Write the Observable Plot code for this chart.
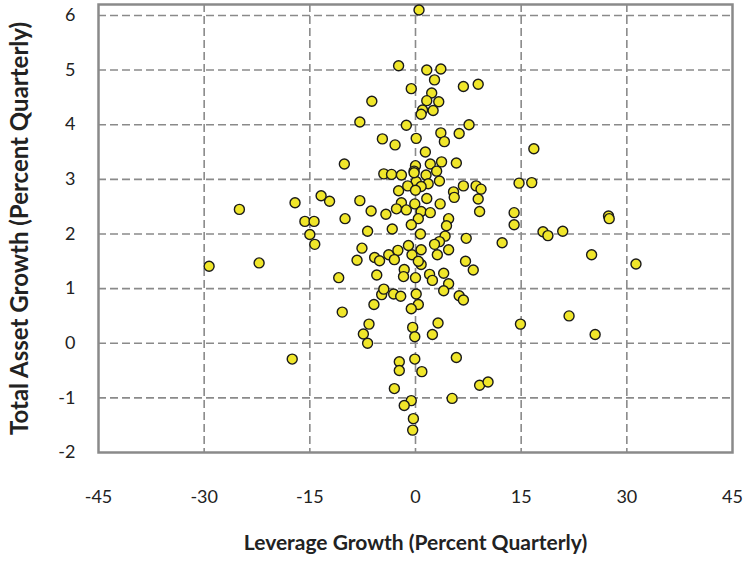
<!DOCTYPE html>
<html>
<head>
<meta charset="utf-8">
<script src="https://cdn.jsdelivr.net/npm/d3@7"></script>
<script src="https://cdn.jsdelivr.net/npm/@observablehq/plot@0.6"></script>
<style>
  html, body { margin: 0; padding: 0; background: #fff; }
  #chart svg { display: block; }
</style>
</head>
<body>
<div id="chart"></div>
<script>
// Leverage growth (x, percent quarterly)
const leverageGrowth = [
  0.5, -2.4, 1.6, 3.6, 2.7, -0.6, 6.8, 8.9, -6.2, 2.3,
  1.6, 3.3, 1.0, 2.5, 0.8, -7.9, -1.3, 7.6, -4.7, -2.9,
  0.1, 3.6, 4.1, 6.2, 1.4, 16.8, -10.1, 2.1, 3.7, 5.8,
  0.0, -4.5, -3.4, -2.0, -0.2, 1.5, 3.0, 3.4, 0.1, 1.8,
  0.8, 6.8, 8.6, 9.3, 14.7, 16.5, 5.4, 5.5, 8.9, 9.1,
  -2.4, -1.1, 0.0, 1.6, -2.0, -0.1, 3.5, -2.7, -1.3, 0.8,
  2.1, -12.2, -13.4, -17.1, -25.0, -7.9, -6.3, -4.2, -10.0, -15.7,
  -14.4, -15.0, -14.3, 14.0, 14.0, 18.1, 18.8, 20.9, 27.4, 27.5,
  25.0, 31.3, 4.7, 4.4, 4.2, 0.7, 0.4, -6.8, -3.3, 7.2,
  12.3, 3.4, 2.7, 4.7, 3.1, 0.8, -0.5, -1.0, -7.6, -8.3,
  -5.8, -5.1, -3.8, -2.5, -3.0, 7.1, 8.2, 0.8, 0.4, -1.6,
  -1.7, 0.0, 2.0, 2.4, 4.0, 4.7, 4.0, -29.3, -22.2, -10.9,
  -5.5, -4.8, -4.5, -3.1, -2.1, 0.1, 0.4, -0.6, 6.2, 6.8,
  -5.9, -10.4, -6.6, -7.4, -6.8, -17.5, -0.4, -0.1, 2.4, 3.2,
  14.9, 21.8, 25.5, -2.3, -2.3, -0.1, 0.9, 5.8, -3.0, -0.6,
  -1.6, -0.3, -0.4, 5.2, 9.1, 10.3, -0.6, -0.2
];
// Total asset growth (y, percent quarterly)
const assetGrowth = [
  6.1, 5.08, 5.0, 5.02, 4.82, 4.66, 4.7, 4.74, 4.43, 4.58,
  4.44, 4.42, 4.27, 4.26, 4.19, 4.05, 3.99, 4.0, 3.74, 3.63,
  3.75, 3.85, 3.69, 3.84, 3.5, 3.56, 3.28, 3.28, 3.32, 3.3,
  3.25, 3.1, 3.09, 3.08, 3.15, 3.08, 3.15, 2.97, 2.96, 2.92,
  2.87, 2.88, 2.88, 2.82, 2.93, 2.94, 2.77, 2.67, 2.64, 2.41,
  2.79, 2.88, 2.8, 2.65, 2.57, 2.55, 2.55, 2.46, 2.44, 2.41,
  2.39, 2.6, 2.7, 2.57, 2.45, 2.61, 2.42, 2.36, 2.28, 2.23,
  2.23, 1.99, 1.81, 2.39, 2.17, 2.04, 1.97, 2.05, 2.33, 2.28,
  1.62, 1.45, 2.28, 2.15, 1.96, 2.0, 2.28, 2.05, 2.09, 1.92,
  1.84, 1.86, 1.81, 1.71, 1.62, 1.71, 1.62, 1.79, 1.74, 1.52,
  1.57, 1.51, 1.62, 1.7, 1.53, 1.5, 1.34, 1.44, 1.5, 1.35,
  1.22, 1.2, 1.26, 1.15, 1.28, 1.09, 0.96, 1.41, 1.47, 1.2,
  1.25, 0.89, 0.99, 0.9, 0.86, 0.9, 0.71, 0.63, 0.87, 0.79,
  0.71, 0.57, 0.35, 0.17, 0.0, -0.29, 0.29, 0.12, 0.16, 0.37,
  0.35, 0.5, 0.16, -0.34, -0.5, -0.29, -0.52, -0.26, -0.83, -1.05,
  -1.14, -1.38, -1.59, -1.01, -0.77, -0.71, 2.17, 3.12
];
const xTicks = [-45, -30, -15, 0, 15, 30, 45];
const yTicks = [-2, -1, 0, 1, 2, 3, 4, 5, 6];
const xTitle = "Leverage Growth (Percent Quarterly)";
const yTitle = "Total Asset Growth (Percent Quarterly)";

const points = leverageGrowth.map((x, i) => ({x, y: assetGrowth[i]}));
const fmt = d => String(d);

const chart = Plot.plot({
  width: 743,
  height: 562,
  marginLeft: 98,
  marginRight: 11,
  marginTop: 4,
  marginBottom: 110,
  style: {fontFamily: "Lato, 'Open Sans', sans-serif", fontSize: "18px", color: "#222", background: "#fff"},
  x: {domain: [-45, 45]},
  y: {domain: [-2, 6.2]},
  marks: [
    Plot.gridX(xTicks.filter(d => d > -45 && d < 45), {stroke: "#8a8a8a", strokeOpacity: 1, strokeWidth: 1.6, strokeDasharray: "8,4"}),
    Plot.gridY(yTicks.filter(d => d > -2), {stroke: "#8a8a8a", strokeOpacity: 1, strokeWidth: 1.6, strokeDasharray: "8,4"}),
    Plot.frame({stroke: "#8a8a8a", strokeWidth: 2.5}),
    Plot.axisX(xTicks, {tickSize: 0, tickPadding: 38, label: null, fontSize: 18, tickFormat: fmt}),
    Plot.axisY(yTicks, {tickSize: 0, tickPadding: 23, label: null, fontSize: 18, tickFormat: fmt}),
    Plot.dot(points, {x: "x", y: "y", r: 5, fill: "#f0e62a", stroke: "#1a1a1a", strokeWidth: 1.4}),
    Plot.text([xTitle], {frameAnchor: "bottom", dy: 97, text: d => d, textAnchor: "middle", fontWeight: "bold", fontSize: 21, fill: "#222"}),
    Plot.text([yTitle], {frameAnchor: "left", dx: -78, rotate: -90, text: d => d, textAnchor: "middle", fontWeight: "bold", fontSize: 24, fill: "#222"})
  ]
});
document.getElementById("chart").appendChild(chart);
</script>
</body>
</html>
